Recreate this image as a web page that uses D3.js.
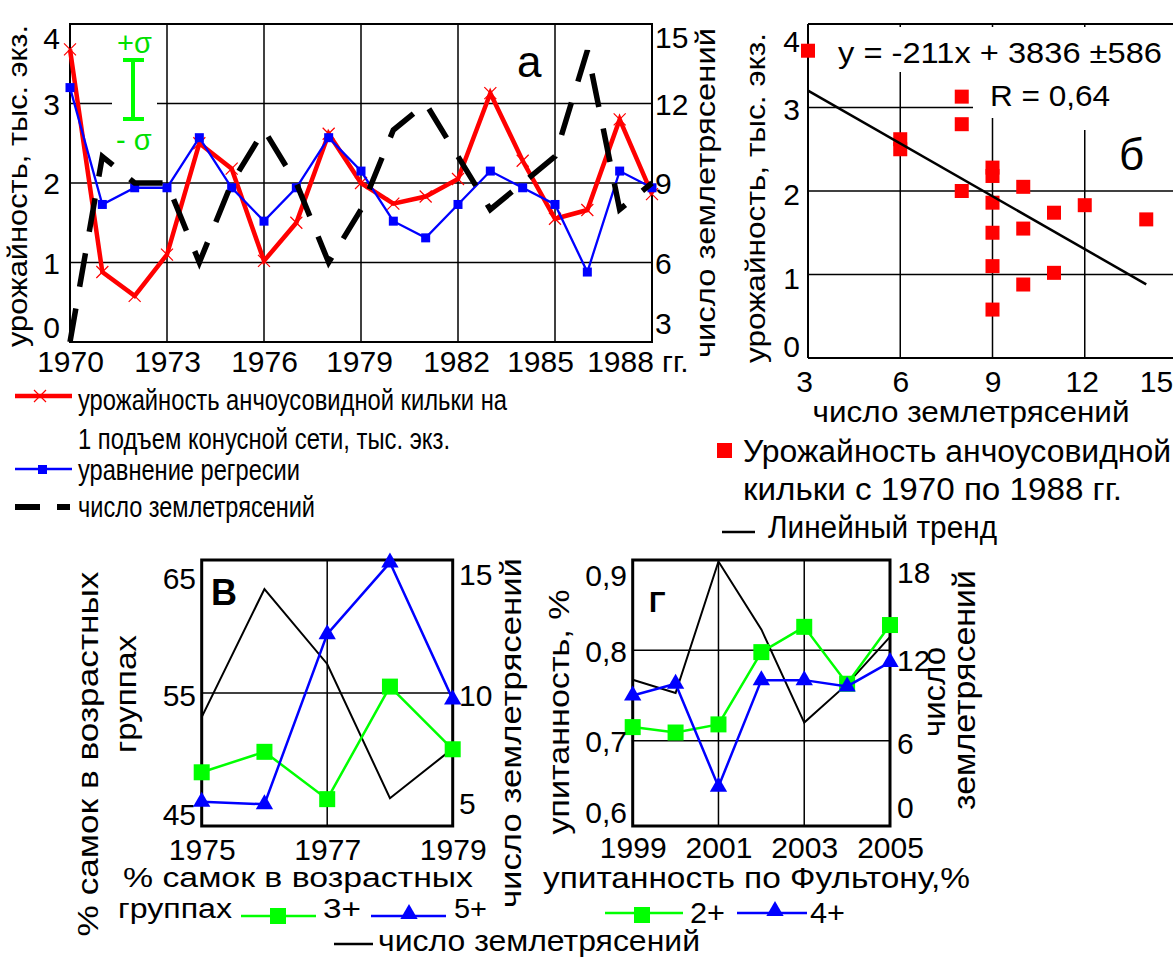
<!DOCTYPE html>
<html><head><meta charset="utf-8">
<script src="https://cdn.jsdelivr.net/npm/d3@7"></script>
<style>body{margin:0;background:#fff}</style></head>
<body><script>
// ---------- DATA ----------
// panel а (1970–1988)
const yearsA = [1970,1971,1972,1973,1974,1975,1976,1977,1978,1979,1980,1981,1982,1983,1984,1985,1986,1987,1988];
const yieldA = [3.68,0.88,0.58,1.1,2.5,2.18,1.02,1.5,2.62,2.0,1.74,1.83,2.05,3.13,2.28,1.55,1.66,2.8,1.86];
const regressA = [3.2,1.73,1.94,1.94,2.57,1.94,1.52,1.94,2.57,2.15,1.52,1.31,1.73,2.15,1.94,1.73,0.88,2.15,1.94];
const quakesA = [3,10,9,9,6,9,11,9,6,8,11,12,10,8,9,10,14,8,9];
const xTicksA = [1970,1973,1976,1979,1982,1985,1988];
const yTicksA = [0,1,2,3,4];
const y2TicksA = [3,6,9,12,15];
// panel б
const trendCoef = [-0.211, 3.836];   // y = -211x + 3836 (тыс.)
const trendRange = [3, 14];
const xTicksB = [3,6,9,12,15];
const yTicksB = [0,1,2,3,4];
// panel в (1975–1979)
const yearsV = [1975,1976,1977,1978,1979];
const fem3 = [48.8,50.4,46.7,55.5,50.6];
const fem5 = [46.5,46.3,59.6,65.2,54.5];
const quakesV = [9.0,14.3,11.2,5.65,7.7];
const xTicksV = [1975,1977,1979];
const yTicksV = [45,55,65];
const y2TicksV = [5,10,15];
// panel г (1999–2005)
const yearsG = [1999,2000,2001,2002,2003,2004,2005];
const cond2 = [0.715,0.709,0.718,0.798,0.826,0.763,0.828];
const cond4 = [0.750,0.763,0.649,0.767,0.767,0.760,0.787];
const quakesG = [9.9,9.0,17.9,13.3,7.0,9.6,12.8];
const xTicksG = [1999,2001,2003,2005];
const yTicksG = [0.6,0.7,0.8,0.9];
const y2TicksG = [0,6,12,18];

// ---------- HELPERS ----------
const F = "'Liberation Sans', Arial, Helvetica, sans-serif";
const RED='#ff0000', BLUE='#0000ff', GREEN='#00ff00', GTXT='#00e000';
const svg = d3.select('body').append('svg').attr('width',1173).attr('height',957);
svg.append('rect').attr('width',1173).attr('height',957).attr('fill','#fff');

function ln(x1,y1,x2,y2,w,c,dash){
  const l = svg.append('line').attr('x1',x1).attr('y1',y1).attr('x2',x2).attr('y2',y2)
    .attr('stroke',c||'#000').attr('stroke-width',w||1.5);
  if(dash) l.attr('stroke-dasharray',dash);
  return l;
}
function txt(x,y,s,o={}){
  const t = svg.append('text').attr('x',x).attr('y',y).text(s)
    .attr('font-family',F).attr('font-size',o.size||30).attr('fill',o.fill||'#000')
    .attr('text-anchor',o.anchor||'start');
  if(o.weight) t.attr('font-weight',o.weight);
  if(o.width) t.attr('textLength',o.width).attr('lengthAdjust','spacingAndGlyphs');
  if(o.rot) t.attr('transform',`rotate(${o.rot},${x},${y})`);
  return t;
}
function vtitle(x,cy,s,o={}){ return txt(x,cy,s,Object.assign({},o,{anchor:'middle',rot:-90})); }
function yAxis(scale,values,x,side,fmt,shift={},size=30){
  const ax=(side==='left'?d3.axisLeft(scale):d3.axisRight(scale)).tickValues(values).tickSize(0).tickPadding(0).tickFormat(fmt||(d=>d));
  const g=svg.append('g').attr('transform',`translate(${x},0)`).call(ax);
  g.select('.domain').remove();
  g.selectAll('text').attr('font-family',F).attr('font-size',size).attr('fill','#000').attr('dy','0.36em')
    .attr('y',d=>shift[d]||0);
}
function xAxis(scale,values,y,fmt,shift={}){
  const ax=d3.axisBottom(scale).tickValues(values).tickSize(0).tickPadding(0).tickFormat(fmt||(d=>d));
  const g=svg.append('g').attr('transform',`translate(0,${y})`).call(ax);
  g.select('.domain').remove();
  g.selectAll('text').attr('font-family',F).attr('font-size',30).attr('fill','#000').attr('dy',0).attr('y',0)
    .attr('x',d=>shift[d]||0);
}
function path(xs,ys,sx,sy,w,c,dash){
  const p=svg.append('path').datum(ys).attr('d',d3.line().x((d,i)=>sx(xs[i])).y(d=>sy(d)))
    .attr('fill','none').attr('stroke',c).attr('stroke-width',w).attr('stroke-linejoin','miter');
  if(dash) p.attr('stroke-dasharray',dash);
  return p;
}
function squares(xs,ys,sx,sy,s,c){
  svg.append('g').selectAll('rect').data(ys).join('rect')
    .attr('x',(d,i)=>sx(xs[i])-s/2).attr('y',d=>sy(d)-s/2).attr('width',s).attr('height',s).attr('fill',c);
}
function triangles(xs,ys,sx,sy,area,c){
  const sym=d3.symbol().type(d3.symbolTriangle).size(area);
  svg.append('g').selectAll('path').data(ys).join('path')
    .attr('transform',(d,i)=>`translate(${sx(xs[i])},${sy(d)})`).attr('d',sym).attr('fill',c);
}

// ---------- PANEL а ----------
const xA=d3.scaleLinear().domain([1970,1988]).range([70,652]);
const yA=d3.scaleLinear().domain([0,4]).range([342,24]);
const yA2=d3.scaleLinear().domain([3,15]).range([342,24]);
yTicksA.slice(1,-1).forEach(v=>ln(70,yA(v),652,yA(v),1.5));
xTicksA.slice(1,-1).forEach(v=>ln(xA(v),24,xA(v),342,1.5));
svg.append('rect').attr('x',70).attr('y',24).attr('width',582).attr('height',318).attr('fill','none').attr('stroke','#000').attr('stroke-width',2);
// sigma annotation
svg.append('rect').attr('x',112).attr('y',27).attr('width',45).attr('height',128).attr('fill','#fff');
ln(133,60,133,120,4,GREEN); ln(123,60,144,60,4,GREEN); ln(123,119,144,119,4,GREEN);
txt(117,53,'+σ',{size:29,fill:GTXT});
txt(116,150,'- σ',{size:29,fill:GTXT});
// series
path(yearsA,yieldA,xA,yA,4.5,RED);
svg.append('g').selectAll('path').data(yieldA).join('path')
  .attr('transform',(d,i)=>`translate(${xA(yearsA[i])},${yA(d)})`).attr('d','M-6,-6L6,6M-6,6L6,-6')
  .attr('stroke',RED).attr('stroke-width',1.2);
path(yearsA,regressA,xA,yA,2.3,BLUE);
squares(yearsA,regressA,xA,yA,9,BLUE);
path(yearsA,quakesA,xA,yA2,5.5,'#000','34,22');
txt(517,77,'а',{size:44});
yAxis(yA,yTicksA,60,'left',null,{4:14,0:-15});
yAxis(yA2,y2TicksA,655,'right',null,{15:13,3:-19});
xAxis(xA,xTicksA,372,null,{1979:-2,1982:-2,1985:-15,1988:-32});
txt(662,372,'гг.',{size:30});
vtitle(27,186,'урожайность, тыс. экз.',{size:27,width:322});
vtitle(715,193,'число землетрясений',{size:28,width:330});
// legend а
ln(15,396,72,396,4.5,RED);
svg.append('path').attr('transform','translate(40,396)').attr('d','M-6,-6L6,6M-6,6L6,-6').attr('stroke',RED).attr('stroke-width',1.2);
txt(78,410,'урожайность анчоусовидной кильки на',{size:30,width:429});
txt(78,449,'1 подъем конусной сети, тыс. экз.',{size:30,width:372});
ln(15,469,72,469,2.3,BLUE);
svg.append('rect').attr('x',38).attr('y',465).attr('width',9).attr('height',9).attr('fill',BLUE);
txt(78,480,'уравнение регресии',{size:30,width:222});
ln(15,507,40,507,6); ln(57,507,70,507,6);
txt(78,517,'число землетрясений',{size:30,width:237});

// ---------- PANEL б ----------
const xB=d3.scaleLinear().domain([3,15]).range([808,1177]);
const yB=d3.scaleLinear().domain([0,4]).range([358,24]);
yTicksB.slice(1,-1).forEach(v=>ln(808,yB(v),1173,yB(v),1.5));
xTicksB.slice(1,-1).forEach(v=>ln(xB(v),24,xB(v),358,1.5));
ln(808,24,1173,24,2); ln(808,358,1173,358,2); ln(808,24,808,358,2);
svg.append('rect').attr('x',820).attr('y',27).attr('width',353).attr('height',45).attr('fill','#fff');
svg.append('rect').attr('x',973).attr('y',72).attr('width',200).attr('height',46).attr('fill','#fff');
svg.append('rect').attr('x',1060).attr('y',118).attr('width',113).attr('height',12).attr('fill','#fff');
squares(quakesA,yieldA,xB,yB,14,RED);
ln(xB(trendRange[0]),yB(trendCoef[0]*trendRange[0]+trendCoef[1]),xB(trendRange[1]),yB(trendCoef[0]*trendRange[1]+trendCoef[1]),2.5,'#000');
txt(838,63,'y = -211x + 3836 ±586',{size:30,width:324});
txt(990,106,'R = 0,64',{size:30,width:120});
txt(1119,170,'б',{size:44});
yAxis(yB,yTicksB,800,'left',null,{4:17,3:1,2:3,1:3,0:-12});
xAxis(xB,xTicksB,392,null,{3:-4,12:-3,15:-21});
vtitle(765,198,'урожайность, тыс. экз.',{size:28,width:330});
txt(971,422,'число землетрясений',{size:30,width:317,anchor:'middle'});
// legend б
svg.append('rect').attr('x',717).attr('y',443).attr('width',15).attr('height',15).attr('fill',RED);
txt(743,462,'Урожайность анчоусовидной',{size:31,width:428});
txt(743,500,'кильки  с 1970 по 1988 гг.',{size:31,width:379});
ln(722,532,755,532,2.5);
txt(768,538,'Линейный тренд',{size:31,width:229});

// ---------- PANEL в ----------
const xV=d3.scaleLinear().domain([1975,1979]).range([201.7,452.7]);
const yV=d3.scaleLinear().domain([44.6,65.4]).range([826,560]);
const yV2=d3.scaleLinear().domain([4.5,15.5]).range([826,560]);
ln(xV(1977),560,xV(1977),826,1.5);
ln(201.7,yV(55),452.7,yV(55),1.5);
svg.append('rect').attr('x',201.7).attr('y',560).attr('width',251).attr('height',266).attr('fill','none').attr('stroke','#000').attr('stroke-width',3);
path(yearsV,quakesV,xV,yV2,2,'#000');
path(yearsV,fem3,xV,yV,2.5,GREEN);
squares(yearsV,fem3,xV,yV,16,GREEN);
path(yearsV,fem5,xV,yV,2.5,BLUE);
triangles(yearsV,fem5,xV,yV,130,BLUE);
txt(211,605,'В',{size:36,weight:'bold'});
yAxis(yV,yTicksV,196,'left',null,{65:13,55:2,45:-7});
yAxis(yV2,y2TicksV,459,'right',null,{15:2,10:2,5:-11});
xAxis(xV,xTicksV,860);
vtitle(98,754,'% самок в   возрастных',{size:29,width:365});
vtitle(136,694,'группах',{size:29,width:118});
vtitle(521,733,'число землетрясений',{size:30,width:350});
txt(123,887,'% самок  в возрастных',{size:27,width:350});
txt(118,918,'группах',{size:27,width:114});
ln(241,916,316,916,2.5,GREEN);
svg.append('rect').attr('x',270).attr('y',908).attr('width',16).attr('height',16).attr('fill',GREEN);
txt(323,918,'3+',{size:28,width:38});
ln(371,916,446,916,2.5,BLUE);
svg.append('path').attr('transform','translate(409,914)').attr('d',d3.symbol().type(d3.symbolTriangle).size(130)()).attr('fill',BLUE);
txt(454,918,'5+',{size:28,width:33});
ln(334,944,373,944,2.5);
txt(378,951,'число землетрясений',{size:29,width:322});

// ---------- PANEL г ----------
const xG=d3.scaleLinear().domain([1999,2005]).range([632.7,890]);
const yG=d3.scaleLinear().domain([0.6055,0.9]).range([826,560]);
const yG2=d3.scaleLinear().domain([0,18]).range([826,560]);
[2001,2003].forEach(v=>ln(xG(v),560,xG(v),826,1.5));
[0.7,0.8].forEach(v=>ln(632.7,yG(v),890,yG(v),1.5));
svg.append('rect').attr('x',632.7).attr('y',560).attr('width',257.3).attr('height',266).attr('fill','none').attr('stroke','#000').attr('stroke-width',3);
path(yearsG,quakesG,xG,yG2,2,'#000');
path(yearsG,cond2,xG,yG,2.5,GREEN);
squares(yearsG,cond2,xG,yG,16,GREEN);
path(yearsG,cond4,xG,yG,2.5,BLUE);
triangles(yearsG,cond4,xG,yG,130,BLUE);
txt(649,612,'Г',{size:29,weight:'bold'});
const fmtG=d=>d3.format('.1f')(d).replace('.',',');
yAxis(yG,yTicksG,627,'left',fmtG,{0.9:15,0.8:0,0.7:0,0.6:-19});
yAxis(yG2,y2TicksG,897,'right',null,{18:12,12:11,6:5,0:-19});
xAxis(xG,xTicksG,858);
vtitle(569,712,'упитанность, %',{size:30,width:245});
vtitle(945,692,'число',{size:31,width:90});
vtitle(975,690,'землетрясений',{size:31,width:240});
txt(543,888,'упитанность по Фультону,%',{size:29,width:427});
ln(605,913,683,913,2.5,GREEN);
svg.append('rect').attr('x',634).attr('y',907).attr('width',16).attr('height',16).attr('fill',GREEN);
txt(690,923,'2+',{size:30,width:35});
ln(737,913,807,913,2.5,BLUE);
svg.append('path').attr('transform','translate(775,911)').attr('d',d3.symbol().type(d3.symbolTriangle).size(130)()).attr('fill',BLUE);
txt(810,923,'4+',{size:30,width:35});
</script></body></html>
